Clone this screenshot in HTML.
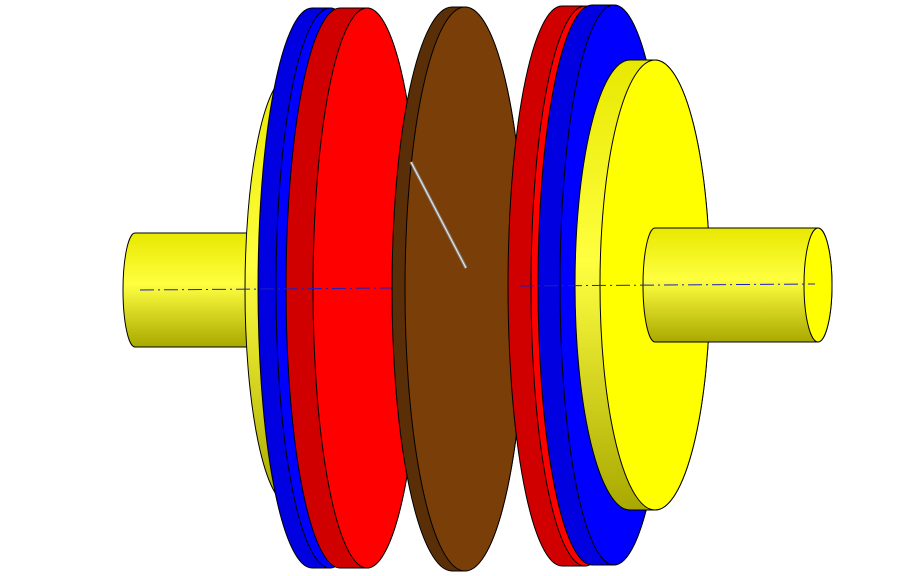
<!DOCTYPE html>
<html><head><meta charset="utf-8"><style>
html,body{margin:0;padding:0;background:#fff;width:920px;height:576px;overflow:hidden}
</style></head><body>
<svg width="920" height="576" viewBox="0 0 920 576" xmlns="http://www.w3.org/2000/svg">
<defs>
<linearGradient id="ys" x1="0" y1="0" x2="0" y2="1">
<stop offset="0" stop-color="#e8e800"/><stop offset="0.45" stop-color="#ffff40"/><stop offset="1" stop-color="#a8a800"/>
</linearGradient>
</defs>
<g stroke="#000" stroke-width="1">
<path d="M135,233 L250,233 L250,347 L135,347 A12,57 0 0 1 135,233 Z" fill="url(#ys)"/>
<path d="M290,75 L300,75 A45,215 0 0 1 300,505 L290,505 A45,215 0 0 1 290,75 Z" fill="url(#ys)"/>
<path d="M312,8 L330,8 A54,280 0 0 1 330,568 L312,568 A54,280 0 0 1 312,8 Z" fill="#0000e0"/>
<ellipse cx="330" cy="288" rx="54" ry="280" fill="#0000ff"/>
<path d="M340,8 L367,8 A54,280 0 0 1 367,568 L340,568 A54,280 0 0 1 340,8 Z" fill="#d00000"/>
<ellipse cx="367" cy="288" rx="54" ry="280" fill="#ff0000"/>
</g>
<line x1="140" y1="290" x2="392" y2="288" stroke="#2020c0" stroke-width="1" stroke-dasharray="14,4,2,4"/>
<g stroke="#000" stroke-width="1">
<path d="M452,7 L465,7 A60,282 0 0 1 465,571 L452,571 A60,282 0 0 1 452,7 Z" fill="#5a2e06"/>
<ellipse cx="465" cy="289" rx="60" ry="282" fill="#7a3f08"/>
<path d="M562,6 L585,6 A54,280 0 0 1 585,566 L562,566 A54,280 0 0 1 562,6 Z" fill="#d00000"/>
<ellipse cx="585" cy="286" rx="54" ry="280" fill="#ff0000"/>
<path d="M592,5 L614,5 A54,280 0 0 1 614,565 L592,565 A54,280 0 0 1 592,5 Z" fill="#0000e0"/>
<ellipse cx="614" cy="285" rx="54" ry="280" fill="#0000ff"/>
<path d="M630,60 L655,60 A55,225 0 0 1 655,510 L630,510 A55,225 0 0 1 630,60 Z" fill="url(#ys)"/>
<ellipse cx="655" cy="285" rx="55" ry="225" fill="#ffff00"/>
<path d="M655,228 L818,228 A14,57 0 0 1 818,342 L655,342 A12,57 0 0 1 655,228 Z" fill="url(#ys)"/>
<ellipse cx="818" cy="285" rx="14" ry="57" fill="#ffff00"/>
</g>
<line x1="411" y1="162" x2="466" y2="268" stroke="#888" stroke-width="3"/>
<line x1="411" y1="162" x2="466" y2="268" stroke="#eee" stroke-width="1"/>
<line x1="520" y1="286" x2="815" y2="284" stroke="#2020c0" stroke-width="1" stroke-dasharray="14,4,2,4"/>
</svg>
</body></html>
